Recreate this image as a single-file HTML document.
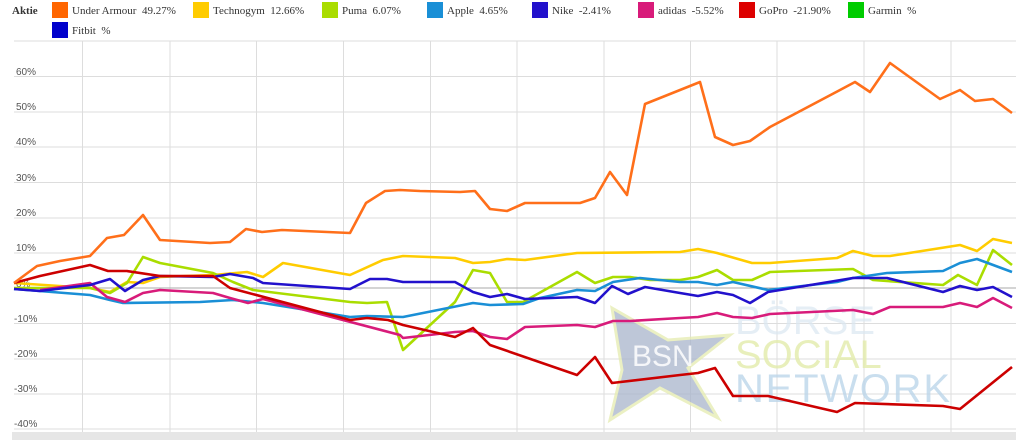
<!DOCTYPE html>
<html><head><meta charset="utf-8"><style>
body{margin:0;background:#fff;width:1024px;height:440px;overflow:hidden}
svg{display:block}
.s{font-family:"Liberation Serif",serif}
.a{font-family:"Liberation Sans",sans-serif}
</style></head><body>
<svg width="1024" height="440" viewBox="0 0 1024 440">
<g font-size="11" fill="#333" class="s">
<text x="12" y="14" font-weight="bold">Aktie</text>
<rect x="52" y="2" width="16" height="16" fill="#ff6600"/><text x="72" y="14">Under Armour&#160; 49.27%</text>
<rect x="193" y="2" width="16" height="16" fill="#ffcc00"/><text x="213" y="14">Technogym&#160; 12.66%</text>
<rect x="322" y="2" width="16" height="16" fill="#aadd00"/><text x="342" y="14">Puma&#160; 6.07%</text>
<rect x="427" y="2" width="16" height="16" fill="#1a8fd6"/><text x="447" y="14">Apple&#160; 4.65%</text>
<rect x="532" y="2" width="16" height="16" fill="#2211cc"/><text x="552" y="14">Nike&#160; -2.41%</text>
<rect x="638" y="2" width="16" height="16" fill="#d81b7a"/><text x="658" y="14">adidas&#160; -5.52%</text>
<rect x="739" y="2" width="16" height="16" fill="#dd0000"/><text x="759" y="14">GoPro&#160; -21.90%</text>
<rect x="848" y="2" width="16" height="16" fill="#00cc00"/><text x="868" y="14">Garmin&#160; %</text>
<rect x="52" y="22" width="16" height="16" fill="#0000cc"/><text x="72" y="34">Fitbit&#160; %</text>
</g>
<g stroke="#ddd" stroke-width="1">
<line x1="14" y1="41" x2="1016" y2="41"/><line x1="14" y1="76.5" x2="1016" y2="76.5"/><line x1="14" y1="112" x2="1016" y2="112"/><line x1="14" y1="147" x2="1016" y2="147"/><line x1="14" y1="182.5" x2="1016" y2="182.5"/><line x1="14" y1="218" x2="1016" y2="218"/><line x1="14" y1="253" x2="1016" y2="253"/><line x1="14" y1="323.5" x2="1016" y2="323.5"/><line x1="14" y1="359" x2="1016" y2="359"/><line x1="14" y1="394" x2="1016" y2="394"/><line x1="14" y1="429" x2="1016" y2="429"/>
<line x1="82.5" y1="41" x2="82.5" y2="432"/><line x1="170" y1="41" x2="170" y2="432"/><line x1="256.5" y1="41" x2="256.5" y2="432"/><line x1="343.5" y1="41" x2="343.5" y2="432"/><line x1="430.5" y1="41" x2="430.5" y2="432"/><line x1="517" y1="41" x2="517" y2="432"/><line x1="604" y1="41" x2="604" y2="432"/><line x1="690.5" y1="41" x2="690.5" y2="432"/><line x1="777" y1="41" x2="777" y2="432"/><line x1="864" y1="41" x2="864" y2="432"/><line x1="951" y1="41" x2="951" y2="432"/>
</g>
<line x1="14" y1="288" x2="1016" y2="288" stroke="#aaa"/>
<g font-size="10" fill="#555" class="a">
<text x="16" y="75">60%</text><text x="16" y="110">50%</text><text x="16" y="145">40%</text><text x="16" y="181">30%</text><text x="16" y="216">20%</text><text x="16" y="251">10%</text><text x="16" y="287">0%</text><text x="14" y="322">-10%</text><text x="14" y="357">-20%</text><text x="14" y="392">-30%</text><text x="14" y="427">-40%</text>
</g>
<rect x="12" y="432" width="1004" height="8" fill="#e6e6e6"/>
<polygon points="612,308 668,340 730,335 688,368 718,418 660,388 610,420 622,370" fill="#a9b5cc" opacity="0.75" stroke="#e5ecb0" stroke-width="3"/>
<g class="a">
<text x="632" y="366" font-size="30" fill="#fff" opacity="0.85">BSN</text>
<text x="735" y="334" font-size="40" fill="#dbe7f2" opacity="0.7">BÖRSE</text>
<text x="735" y="368" font-size="40" fill="#e4edb0" opacity="0.85">SOCIAL</text>
<text x="735" y="402" font-size="40" fill="#bcd6ea" opacity="0.8" textLength="215">NETWORK</text>
</g>
<g fill="none" stroke-width="2.6" stroke-linejoin="round">
<polyline stroke="#ffcc00" points="14,283 90,288 110,292 127,282 143,283 160,277 213,275 247,272 263,277 283,263 350,275 383,260 403,256 455,258 473,263 490,262 507,259 525,260 577,253 680,252 698,249 717,253 752,263 770,263 837,258 853,251 873,256 890,256 960,245 977,251 993,239 1012,243"/>
<polyline stroke="#aadd00" points="14,288 90,288 110,293 127,283 143,257 160,263 213,273 233,282 253,290 350,302 367,303 387,302 403,350 455,302 473,270 490,273 507,302 523,302 577,272 595,283 613,277 630,277 650,280 680,280 698,277 717,270 733,280 752,280 770,272 853,269 873,280 943,285 958,275 977,285 993,250 1012,265"/>
<polyline stroke="#1a8fd6" points="14,289 90,295 110,300 123,303 200,302 233,300 263,303 350,317 367,316 403,317 473,303 490,305 523,304 540,298 577,290 595,291 613,282 640,278 680,282 698,282 717,285 733,282 768,290 837,282 853,278 887,273 943,271 960,263 977,259 1012,272"/>
<polyline stroke="#d81b7a" points="40,290 90,283 107,297 125,302 143,293 160,290 213,293 230,298 248,303 263,299 400,335 403,338 455,332 473,331 490,337 507,339 525,327 577,325 595,327 613,321 630,321 680,318 698,317 717,313 733,317 752,318 770,314 853,310 873,314 890,307 943,307 960,303 977,307 993,298 1012,308"/>
<polyline stroke="#2211cc" points="14,289 40,291 90,285 110,279 125,291 143,280 160,276 213,277 230,274 253,278 263,283 350,289 370,279 387,279 403,282 455,282 473,292 490,297 507,294 525,299 577,297 595,303 612,286 628,294 645,287 680,293 698,296 717,292 733,295 750,303 768,292 853,278 887,278 943,292 960,286 977,290 993,287 1012,297"/>
<polyline stroke="#cc0000" points="14,283 40,276 90,265 108,271 127,271 160,276 213,276 230,288 350,320 367,318 388,320 403,325 455,337 473,328 490,345 577,375 595,357 612,383 680,375 698,373 715,368 733,396 768,396 837,412 855,403 943,406 960,409 1012,367"/>
<polyline stroke="#ff6f1a" points="14,283 37,266 60,261 90,256 107,238 124,235 143,215 160,240 210,243 230,242 246,229 262,232 282,230 350,233 366,203 385,191 400,190 420,191 460,192 475,191 490,209 507,211 525,203 580,203 595,198 610,172 627,195 645,104 700,82 715,137 733,145 750,141 770,127 840,90 855,82 870,92 890,63 940,99 960,90 975,101 993,99 1012,113"/>
</g>
</svg>
</body></html>
